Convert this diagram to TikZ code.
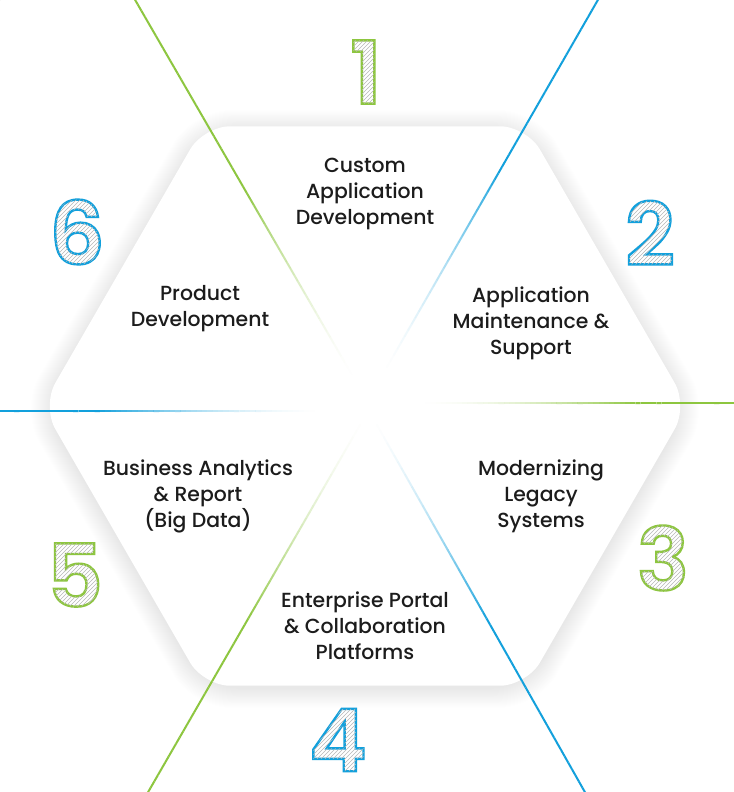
\documentclass[tikz,border=0pt]{standalone}
\usepackage{fontspec}
\setmainfont{Poppins Medium}
\newfontfamily\digitfont{Poppins SemiBold}
\usetikzlibrary{patterns,calc}
\definecolor{lgreen}{RGB}{141,198,63}
\definecolor{lblue}{RGB}{18,160,220}
\definecolor{txt}{RGB}{28,28,28}

\newcommand\hexagon[4]{%
  \pgfmathsetmacro\hR{(#2)}\pgfmathsetmacro\hH{(#2)*0.8660254}\pgfmathsetmacro\hh{(#2)/2}%
  \path[#1] (#3,#4-\hH) -- (#3+\hh,#4-\hH) -- (#3+\hR,#4) -- (#3+\hh,#4+\hH)
    -- (#3-\hh,#4+\hH) -- (#3-\hR,#4) -- (#3-\hh,#4-\hH) -- cycle;}

\newcommand\fadeline[4]{%
  \foreach \i in {0,...,59}{%
    \pgfmathsetmacro\ta{\i/60}\pgfmathsetmacro\tb{(\i+1)/60}%
    \pgfmathsetmacro\op{\ta<#4 ? 1 : ((1-\ta)/(1-#4))^1.8}%
    \draw[#1, line width=1.5pt, draw opacity=\op] ($(#2)!\ta!(#3)$) -- ($(#2)!\tb!(#3)$);
  }}

\newcommand\hatchdigit[2]{%
  \pgfsetfillpattern{north east lines}{black!28}%
  \special{pdf:literal direct 2 Tr 1.8 w #1 RG}%
  #2%
  \special{pdf:literal direct 0 Tr}}

\begin{document}
\begin{tikzpicture}[x=0.75pt,y=-0.75pt,
  lbl/.style={align=center, font=\fontsize{15.3}{19.5}\selectfont, text=txt, inner sep=0pt},
  digit/.style={font=\digitfont\fontsize{65}{65}\selectfont, inner sep=0pt}]
\path[use as bounding box] (0,0) rectangle (733,792);
\fill[white] (0,0) rectangle (733,792);
\fill[pattern=north east lines, pattern color=black!28] (0,0) rectangle (0.01,0.01);

% soft band around the hexagon
\foreach \k in {0,...,22}{\hexagon{fill=black, fill opacity=0.0032, rounded corners=28pt}{323+\k}{365}{409}}
\hexagon{fill=white, rounded corners=20pt}{323}{365}{406}

% lines
\coordinate (gTLa) at (134,-2);  \coordinate (gTLb) at (352,375);
\coordinate (bTRa) at (599,-2);  \coordinate (bTRb) at (383,374);
\coordinate (bLa)  at (-2,411);  \coordinate (bLb)  at (320,411);
\coordinate (gRa)  at (735,403); \coordinate (gRb)  at (420,403);
\coordinate (gBLa) at (147,794); \coordinate (gBLb) at (364,418);
\coordinate (bBRa) at (586,794); \coordinate (bBRb) at (373,418);
\fadeline{lgreen}{gTLa}{gTLb}{0.5}
\fadeline{lblue}{bTRa}{bTRb}{0.45}
\fadeline{lblue}{bLa}{bLb}{0.3}
\fadeline{lgreen}{gRa}{gRb}{0.3}
\fadeline{lgreen}{gBLa}{gBLb}{0.45}
\fadeline{lblue}{bBRa}{bBRb}{0.45}

% labels
\node[lbl] (t1) at (365,194) {Custom\\Application\\Development};
\node[lbl] (t2) at (531,323) {Application\\Maintenance \&\\Support};
\node[lbl] (t3) at (541,496) {Modernizing\\Legacy\\Systems};
\node[lbl] (t4) at (365,626) {Enterprise Portal\\\& Collaboration\\Platforms};
\node[lbl] (t5) at (198,496) {Business Analytics\\\& Report\\(Big Data)};
\node[lbl] (t6) at (200,309) {Product\\Development};

% digits
\node[digit] (d1) at (366,72)  {\hatchdigit{0.553 0.776 0.247}{1}};
\node[digit] (d2) at (650,233) {\hatchdigit{0.071 0.627 0.863}{2}};
\node[digit] (d3) at (663,558) {\hatchdigit{0.553 0.776 0.247}{3}};
\node[digit] (d4) at (338,740) {\hatchdigit{0.071 0.627 0.863}{4}};
\node[digit] (d5) at (75,575)  {\hatchdigit{0.553 0.776 0.247}{5}};
\node[digit] (d6) at (77,232)  {\hatchdigit{0.071 0.627 0.863}{6}};
\end{tikzpicture}
\end{document}
